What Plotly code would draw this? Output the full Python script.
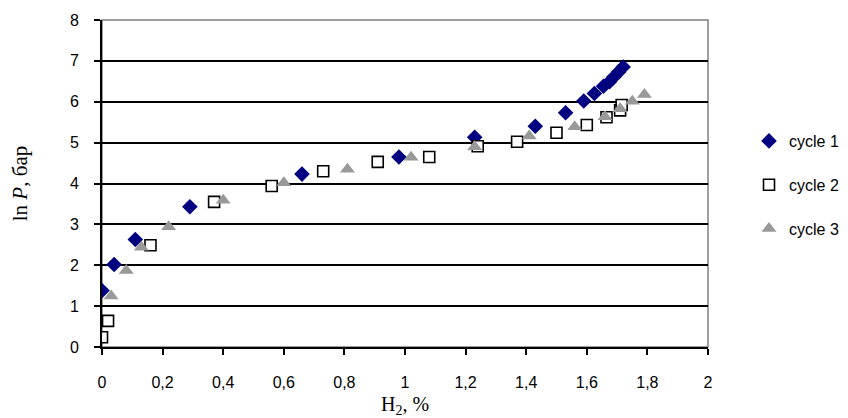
import plotly.graph_objects as go

# Data
c1_x = [0.0, 0.04, 0.11, 0.29, 0.66, 0.98, 1.23, 1.43, 1.53, 1.59, 1.625, 1.655, 1.675, 1.69, 1.705, 1.72]
c1_y = [1.38, 2.02, 2.63, 3.43, 4.23, 4.65, 5.13, 5.40, 5.73, 6.02, 6.20, 6.38, 6.49, 6.61, 6.73, 6.85]

c2_x = [0.0, 0.02, 0.16, 0.37, 0.56, 0.73, 0.91, 1.08, 1.24, 1.37, 1.50, 1.60, 1.665, 1.71, 1.715]
c2_y = [0.24, 0.64, 2.49, 3.55, 3.94, 4.30, 4.53, 4.65, 4.91, 5.02, 5.24, 5.43, 5.62, 5.79, 5.92]

c3_x = [0.03, 0.08, 0.13, 0.22, 0.40, 0.60, 0.81, 1.02, 1.23, 1.41, 1.56, 1.66, 1.71, 1.75, 1.79]
c3_y = [1.25, 1.87, 2.44, 2.94, 3.59, 4.02, 4.35, 4.64, 4.90, 5.16, 5.39, 5.63, 5.83, 6.01, 6.18]

x_tickvals = [0, 0.2, 0.4, 0.6, 0.8, 1, 1.2, 1.4, 1.6, 1.8, 2]
x_ticktext = ["0", "0,2", "0,4", "0,6", "0,8", "1", "1,2", "1,4", "1,6", "1,8", "2"]
y_tickvals = [0, 1, 2, 3, 4, 5, 6, 7, 8]
y_ticktext = ["0", "1", "2", "3", "4", "5", "6", "7", "8"]

SANS = "Liberation Sans, Arial, sans-serif"
SERIF = "Liberation Serif, Times New Roman, serif"

fig = go.Figure()
fig.add_trace(go.Scatter(x=c1_x, y=c1_y, mode="markers", name="cycle 1", legendgroup="a",
                         marker=dict(symbol="diamond", size=12, color="#000080")))
fig.add_trace(go.Scatter(x=c2_x, y=c2_y, mode="markers", name="cycle 2", legendgroup="b",
                         marker=dict(symbol="square", size=11, color="white",
                                     line=dict(color="black", width=1.6))))
fig.add_trace(go.Scatter(x=c3_x, y=c3_y, mode="markers", name="cycle 3", legendgroup="c",
                         marker=dict(symbol="triangle-up", size=13, color="#999999")))

# plot-area border (gray top/right)
fig.add_shape(type="rect", xref="paper", yref="paper", x0=0, y0=0, x1=1, y1=1,
              line=dict(color="#808080", width=1.5), layer="below")

W, H = 840, 410
fig.update_layout(
    width=W, height=H,
    margin=dict(l=94, r=140, t=12, b=71, autoexpand=False),
    paper_bgcolor="white", plot_bgcolor="white",
    font=dict(family=SANS, size=16, color="black"),
    showlegend=True,
    legend=dict(xref="container", yref="container", x=741 / W, y=1 - 116 / H,
                xanchor="left", yanchor="top",
                font=dict(family=SANS, size=16),
                tracegroupgap=20, traceorder="grouped",
                itemwidth=30, bgcolor="rgba(0,0,0,0)", borderwidth=0),
    xaxis=dict(range=[0, 2], tickvals=x_tickvals, ticktext=x_ticktext,
               showgrid=False, zeroline=False,
               showline=True, linecolor="black", linewidth=2,
               ticks="outside", ticklen=6, tickwidth=1.5, tickcolor="black",
               ticklabelstandoff=14,
               tickfont=dict(family=SANS, size=16),
               title=dict(text="H<sub>2</sub>, %", standoff=9,
                          font=dict(family=SERIF, size=20))),
    yaxis=dict(range=[0, 8], tickvals=y_tickvals, ticktext=y_ticktext,
               showgrid=True, gridcolor="black", gridwidth=1.5, zeroline=False,
               showline=True, linecolor="black", linewidth=2,
               ticks="outside", ticklen=6, tickwidth=1.5, tickcolor="black",
               ticklabelstandoff=12,
               tickfont=dict(family=SANS, size=16),
               title=dict(text="ln <i>P</i>, бар", standoff=38,
                          font=dict(family=SERIF, size=21))),
)

fig.write_html("out.html")
